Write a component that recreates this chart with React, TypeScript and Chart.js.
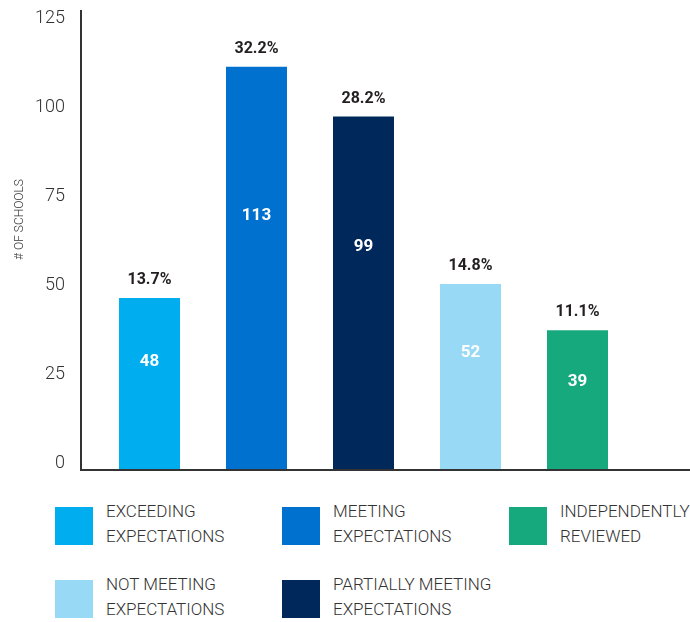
import React, { useEffect, useRef } from "react";
import { Chart, registerables } from "chart.js";

Chart.register(...registerables);

// ---- Data ----
const categories = [
  "EXCEEDING EXPECTATIONS",
  "MEETING EXPECTATIONS",
  "PARTIALLY MEETING EXPECTATIONS",
  "NOT MEETING EXPECTATIONS",
  "INDEPENDENTLY REVIEWED",
];
const schoolCounts = [48, 113, 99, 52, 39];
const percentLabels = ["13.7%", "32.2%", "28.2%", "14.8%", "11.1%"];
const barColors = ["#00AEEF", "#0071CE", "#00285A", "#98D9F5", "#17A97E"];
const yMin = 0;
const yMax = 125;
const yStep = 25;
const yAxisTitle = "# OF SCHOOLS";
// order in which categories appear in the legend grid (3 columns)
const legendOrder = [0, 1, 4, 3, 2];

const FONT = "Roboto, 'Open Sans', sans-serif";

const decorPlugin = {
  id: "decor",
  afterDatasetsDraw(chart: any) {
    const { ctx, chartArea } = chart;
    const yScale = chart.scales.y;
    const meta = chart.getDatasetMeta(0);
    ctx.save();

    // axis lines
    const axisX = chartArea.left - 15;
    ctx.strokeStyle = "#333333";
    ctx.lineWidth = 2;
    ctx.beginPath();
    ctx.moveTo(axisX, chartArea.top - 14);
    ctx.lineTo(axisX, chartArea.bottom + 1);
    ctx.lineTo(chart.width, chartArea.bottom + 1);
    ctx.stroke();

    // labels on bars
    ctx.textAlign = "center";
    ctx.textBaseline = "middle";
    meta.data.forEach((bar: any, i: number) => {
      ctx.fillStyle = "#231f20";
      ctx.font = `bold 16px ${FONT}`;
      ctx.fillText(percentLabels[i], bar.x, bar.y - 18);
      ctx.fillStyle = "#ffffff";
      ctx.font = `bold 17px ${FONT}`;
      ctx.fillText(
        String(schoolCounts[i]),
        bar.x,
        yScale.getPixelForValue(schoolCounts[i] * 0.63)
      );
    });

    // y axis title
    ctx.translate(20, (chartArea.top + chartArea.bottom) / 2 - 27);
    ctx.rotate(-Math.PI / 2);
    ctx.fillStyle = "#333333";
    ctx.font = `300 12px ${FONT}`;
    ctx.fillText(yAxisTitle, 0, 0);
    ctx.restore();
  },
};

export default function App() {
  const canvasRef = useRef<HTMLCanvasElement | null>(null);

  useEffect(() => {
    document.body.style.margin = "0";
    const canvas = canvasRef.current;
    if (!canvas) return;
    const chart = new Chart(canvas, {
      type: "bar",
      data: {
        labels: categories,
        datasets: [
          {
            data: schoolCounts,
            backgroundColor: barColors,
            borderWidth: 0,
            barPercentage: 0.57,
            categoryPercentage: 1,
          },
        ],
      },
      options: {
        animation: false,
        responsive: false,
        maintainAspectRatio: false,
        layout: { padding: { top: 24, right: 59, bottom: 11, left: 0 } },
        plugins: {
          legend: { display: false },
          tooltip: { enabled: false },
        },
        scales: {
          x: { display: false, offset: true },
          y: {
            min: yMin,
            max: yMax,
            afterFit: (s: any) => {
              s.width = 96;
              s.paddingTop = 0;
              s.paddingBottom = 0;
            },
            grid: { display: false },
            border: { display: false },
            ticks: {
              stepSize: yStep,
              padding: 23,
              labelOffset: -6,
              color: "#333333",
              font: { family: FONT, size: 18, weight: 300 },
            },
          },
        },
      },
      plugins: [decorPlugin],
    });
    return () => chart.destroy();
  }, []);

  return (
    <div
      style={{
        position: "relative",
        width: 690,
        height: 622,
        overflow: "hidden",
        background: "#ffffff",
        fontFamily: FONT,
      }}
    >
      <canvas
        ref={canvasRef}
        width={690}
        height={480}
        style={{ position: "absolute", left: 0, top: 0, width: 690, height: 480 }}
      />
      {legendOrder.map((ci, k) => {
        const col = k % 3;
        const row = Math.floor(k / 3);
        const left = 55 + col * 227;
        const top = 507 + row * 73;
        return (
          <div key={ci} style={{ position: "absolute", left, top }}>
            <div
              style={{
                position: "absolute",
                left: 0,
                top: 0,
                width: 38,
                height: 38,
                background: barColors[ci],
              }}
            />
            <div
              style={{
                position: "absolute",
                left: 51,
                top: -8,
                width: 175,
                fontSize: 17,
                fontWeight: 300,
                lineHeight: "25px",
                color: "#333333",
                whiteSpace: "normal",
              }}
            >
              {categories[ci]}
            </div>
          </div>
        );
      })}
    </div>
  );
}
